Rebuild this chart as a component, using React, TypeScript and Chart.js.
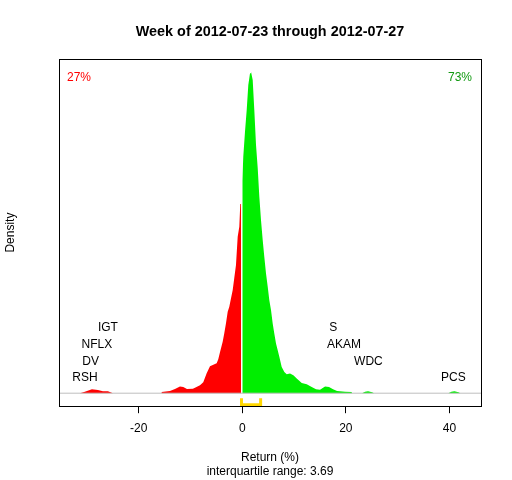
import React, { useEffect, useRef } from 'react';
import { Chart, registerables } from 'chart.js';

Chart.register(...registerables);

const FONT = '"Liberation Sans", Arial, sans-serif';

const titleText = 'Week of 2012-07-23 through 2012-07-27';
const xTitle = ['Return (%)', 'interquartile range: 3.69'];
const yTitle = 'Density';
const xTickValues = [-20, 0, 20, 40];
const xMin = -35.4;
const xMax = 46.1;
const yMin = -0.0065;
const yMax = 0.167;

// Negative-return part of the density (red)
const redX = [
  -31.36, -30.4, -29.04, -27.88, -26.92, -25.95, -24.98, -15.7,
  -15.57, -13.97, -13.0, -12.04, -11.4, -10.69, -9.53, -8.75, -8.17, -7.54,
  -6.88, -6.24, -5.6, -4.95, -4.64, -4.31, -3.79, -3.48, -3.15, -2.82, -2.51,
  -2.18, -1.86, -1.55, -1.22, -0.89, -0.58, -0.39, -0.25,
];
const redY = [
  0, 0.00075, 0.002, 0.0016, 0.001, 0.001, 0, 0,
  0.00065, 0.00115, 0.00215, 0.00335, 0.0031, 0.0021, 0.0022, 0.00325, 0.004, 0.0055,
  0.01, 0.0135, 0.01425, 0.0149, 0.017, 0.0205, 0.02565, 0.03, 0.035, 0.04065, 0.04315,
  0.0475, 0.0515, 0.0575, 0.064, 0.07815, 0.08315, 0.0945, 0.0945,
];

// Positive-return part of the density (green)
const greenX = [
  0, 0.19, 0.52, 0.85, 1.16, 1.49, 1.68, 2.01, 2.32, 2.65, 2.98, 3.29, 3.61,
  3.94, 4.25, 4.58, 4.91, 5.22, 5.55, 5.87, 6.18, 6.51, 6.84, 7.15, 7.61, 8.12,
  8.58, 9.22, 9.86, 10.51, 11.48, 12.44, 13.41, 14.24, 15.01, 15.98, 16.75,
  17.53, 18.3, 19.85, 21.1, 21.2, 23.13, 23.71, 24.29, 25.06, 25.45, 39.8,
  40.39, 40.97, 41.74, 42.13,
];
const greenY = [
  0.10615, 0.11815, 0.13065, 0.1415, 0.154, 0.15985, 0.16065, 0.1565, 0.1415,
  0.124, 0.11235, 0.09815, 0.0865, 0.0765, 0.06815, 0.05985, 0.05315, 0.0465,
  0.0415, 0.03485, 0.02985, 0.02485, 0.0215, 0.01815, 0.01315, 0.01065, 0.0095,
  0.00985, 0.009, 0.00735, 0.00515, 0.0045, 0.00315, 0.002, 0.00175, 0.00335,
  0.0031, 0.002, 0.00115, 0.00075, 0.0006, 0, 0, 0.00075, 0.001, 0.0005, 0, 0,
  0.00075, 0.001, 0.0005, 0,
];

// Interquartile range bracket
const iqrLow = -0.15;
const iqrHigh = 3.54;
const bracketTop = -0.0025;
const bracketBottom = -0.0058;

// Extreme tickers
const tickers = ['RSH', 'DV', 'NFLX', 'IGT', 'S', 'AKAM', 'WDC', 'PCS'];
const tickerReturns = [-30.4, -29.3, -28.1, -25.95, 17.58, 19.65, 24.35, 40.77];
const tickerY = [0.0075, 0.0157, 0.0243, 0.0327, 0.0327, 0.0243, 0.0157, 0.0075];

const pctDown = '27%';
const pctUp = '73%';

const overlayPlugin = {
  id: 'overlay',
  afterDraw(chart: any) {
    const { ctx, chartArea: a, scales } = chart;
    ctx.save();
    ctx.strokeStyle = '#000';
    ctx.lineWidth = 1;
    const l = Math.round(a.left) + 0.5;
    const t = Math.round(a.top) + 0.5;
    const r = Math.round(a.right) + 0.5;
    const b = Math.round(a.bottom) + 0.5;
    ctx.strokeRect(l, t, r - l, b - t);
    ctx.font = `12px ${FONT}`;
    ctx.textBaseline = 'middle';
    ctx.fillStyle = '#000';
    ctx.textAlign = 'center';
    tickers.forEach((tk, i) => {
      ctx.fillText(tk, scales.x.getPixelForValue(tickerReturns[i]), scales.y.getPixelForValue(tickerY[i]));
    });
    ctx.fillStyle = '#FF0000';
    ctx.textAlign = 'left';
    ctx.fillText(pctDown, a.left + 8, a.top + 18.5);
    ctx.fillStyle = '#119911';
    ctx.textAlign = 'right';
    ctx.fillText(pctUp, a.right - 9, a.top + 18.5);
    ctx.restore();
  },
};

export default function App() {
  const ref = useRef<HTMLCanvasElement | null>(null);
  useEffect(() => {
    if (!ref.current) return;
    const chart = new Chart(ref.current, {
      type: 'line',
      data: {
        datasets: [
          {
            label: 'baseline',
            data: [{ x: xMin, y: 0 }, { x: xMax, y: 0 }],
            borderColor: '#BEBEBE',
            borderWidth: 1,
            pointRadius: 0,
            fill: false,
            order: 1,
          },
          {
            label: 'iqr',
            data: [
              { x: iqrLow, y: bracketTop },
              { x: iqrLow, y: bracketBottom },
              { x: iqrHigh, y: bracketBottom },
              { x: iqrHigh, y: bracketTop },
            ],
            borderColor: '#FFD700',
            borderWidth: 3,
            pointRadius: 0,
            fill: false,
            order: 0,
          },
          {
            label: 'down',
            data: redX.map((x, i) => ({ x, y: redY[i] })),
            borderColor: 'rgba(0,0,0,0)',
            backgroundColor: '#FF0000',
            borderWidth: 1,
            pointRadius: 0,
            fill: 'origin',
            tension: 0,
            order: 3,
          },
          {
            label: 'up',
            data: greenX.map((x, i) => ({ x, y: greenY[i] })),
            borderColor: 'rgba(0,0,0,0)',
            backgroundColor: '#00EE00',
            borderWidth: 1,
            pointRadius: 0,
            fill: 'origin',
            tension: 0,
            order: 2,
          },
        ],
      },
      options: {
        animation: false,
        responsive: false,
        devicePixelRatio: 1,
        color: '#000',
        layout: { padding: { left: 0, right: 31, top: 0, bottom: 0 } },
        plugins: {
          legend: { display: false },
          tooltip: { enabled: false },
          title: {
            display: true,
            text: titleText,
            color: '#000',
            fullSize: false,
            font: { family: FONT, size: 14.4, weight: 'bold' },
            padding: { top: 23, bottom: 18.7 },
          },
        },
        scales: {
          x: {
            type: 'linear',
            min: xMin,
            max: xMax,
            afterBuildTicks: (scale: any) => {
              scale.ticks = xTickValues.map((v) => ({ value: v }));
            },
            ticks: {
              color: '#000',
              font: { family: FONT, size: 12 },
              padding: 8,
              maxRotation: 0,
              autoSkip: false,
            },
            grid: {
              display: true,
              drawOnChartArea: false,
              drawTicks: true,
              tickLength: 7,
              color: '#000',
              lineWidth: 1,
            },
            border: { display: false },
            title: {
              display: true,
              text: xTitle,
              color: '#000',
              font: { family: FONT, size: 12 },
              padding: { top: 6.6, bottom: 1 },
            },
          },
          y: {
            type: 'linear',
            min: yMin,
            max: yMax,
            ticks: { display: false },
            grid: { display: false, drawTicks: false },
            border: { display: false },
            title: {
              display: true,
              text: yTitle,
              color: '#000',
              font: { family: FONT, size: 12 },
              padding: { top: 3, bottom: 41.6 },
            },
          },
        },
      },
      plugins: [overlayPlugin],
    });
    return () => chart.destroy();
  }, []);
  return (
    <div style={{ position: 'absolute', left: 0, top: 0, width: 512, height: 480, background: '#fff' }}>
      <canvas ref={ref} width={512} height={480} style={{ width: 512, height: 480, display: 'block' }} />
    </div>
  );
}
